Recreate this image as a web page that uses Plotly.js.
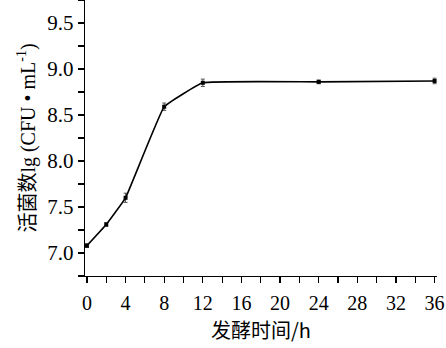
<!DOCTYPE html>
<html><head><meta charset="utf-8">
<script src="https://cdn.plot.ly/plotly-3.0.1.min.js"></script>
<style>html,body{margin:0;padding:0;background:#fff}#chart{width:446px;height:348px}</style>
</head><body><div id="chart"></div>
<script>
const timeH = [0, 2, 4, 8, 12, 24, 36];
const viableCount = [7.08, 7.31, 7.60, 8.59, 8.85, 8.86, 8.87];
const errorBars = [0.02, 0.02, 0.05, 0.04, 0.04, 0.02, 0.03];
const xTitle = '发酵时间/h';
const yTitle = '活菌数lg (CFU • mL<sup>-1</sup>)';

const trace = {
  x: timeH, y: viableCount, type: 'scatter', mode: 'lines+markers',
  line: {color: '#000', width: 1.6, shape: 'spline', smoothing: 0.25},
  marker: {symbol: 'square', size: 4, color: '#000'},
  error_y: {type: 'data', array: errorBars, visible: true, color: '#555', thickness: 1, width: 2}
};
const font = {family: 'Liberation Serif, Times New Roman, serif', color: '#000', size: 21};
const layout = {
  width: 446, height: 348,
  margin: {l: 85, r: 9, t: 0, b: 72},
  paper_bgcolor: '#fff', plot_bgcolor: '#fff',
  font: font, showlegend: false,
  xaxis: {
    range: [-0.2, 36.25], tickvals: [0,4,8,12,16,20,24,28,32,36],
    ticks: 'outside', ticklen: 6, tickwidth: 1.2, tickcolor: '#000',
    minor: {dtick: 2, ticks: 'outside', ticklen: 6, tickwidth: 1.2, tickcolor: '#000'},
    showline: true, linecolor: '#000', linewidth: 1.3, showgrid: false, zeroline: false,
    tickfont: {size: 20}, ticklabelstandoff: 3, ticklabeloverflow: 'allow',
    title: {text: xTitle, font: {size: 20, family: 'Noto Sans CJK SC, Liberation Serif, serif'}, standoff: 10}
  },
  yaxis: {
    range: [6.75, 9.75], tickvals: [7.0,7.5,8.0,8.5,9.0,9.5], tickformat: '.1f',
    ticks: 'outside', ticklen: 6, tickwidth: 1.2, tickcolor: '#000',
    minor: {dtick: 0.25, ticks: 'outside', ticklen: 6, tickwidth: 1.2, tickcolor: '#000'},
    showline: true, linecolor: '#000', linewidth: 1.3, showgrid: false, zeroline: false,
    tickfont: {size: 21},
    title: {text: yTitle, font: {size: 20, family: 'Liberation Serif, Noto Sans CJK SC, serif'}, standoff: 6}
  }
};
Plotly.newPlot('chart', [trace], layout, {staticPlot: true});
</script></body></html>
